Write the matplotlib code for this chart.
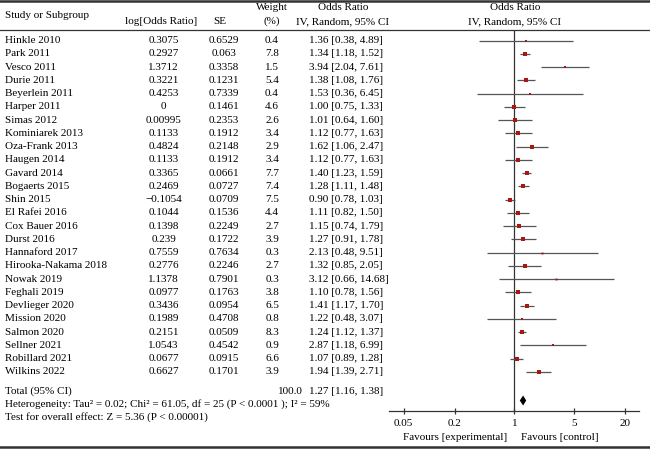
import numpy as np
import matplotlib
matplotlib.use("Agg")
import matplotlib.pyplot as plt

plt.rcParams['font.family'] = ['Liberation Serif', 'DejaVu Serif']

# study data
studies = ["Hinkle 2010", "Park 2011", "Vesco 2011", "Durie 2011", "Beyerlein 2011",
           "Harper 2011", "Simas 2012", "Kominiarek 2013", "Oza-Frank 2013", "Haugen 2014",
           "Gavard 2014", "Bogaerts 2015", "Shin 2015", "El Rafei 2016", "Cox Bauer 2016",
           "Durst 2016", "Hannaford 2017", "Hirooka-Nakama 2018", "Nowak 2019", "Feghali 2019",
           "Devlieger 2020", "Mission 2020", "Salmon 2020", "Sellner 2021", "Robillard 2021",
           "Wilkins 2022"]
log_or = [0.3075, 0.2927, 1.3712, 0.3221, 0.4253, 0, 0.00995, 0.1133, 0.4824, 0.1133,
          0.3365, 0.2469, -0.1054, 0.1044, 0.1398, 0.239, 0.7559, 0.2776, 1.1378, 0.0977,
          0.3436, 0.1989, 0.2151, 1.0543, 0.0677, 0.6627]
se = [0.6529, 0.063, 0.3358, 0.1231, 0.7339, 0.1461, 0.2353, 0.1912, 0.2148, 0.1912,
      0.0661, 0.0727, 0.0709, 0.1536, 0.2249, 0.1722, 0.7634, 0.2246, 0.7901, 0.1763,
      0.0954, 0.4708, 0.0509, 0.4542, 0.0915, 0.1701]
weight = [0.4, 7.8, 1.5, 5.4, 0.4, 4.6, 2.6, 3.4, 2.9, 3.4, 7.7, 7.4, 7.5, 4.4, 2.7,
          3.9, 0.3, 2.7, 0.3, 3.8, 6.5, 0.8, 8.3, 0.9, 6.6, 3.9]
odds = [1.36, 1.34, 3.94, 1.38, 1.53, 1.00, 1.01, 1.12, 1.62, 1.12, 1.40, 1.28, 0.90,
        1.11, 1.15, 1.27, 2.13, 1.32, 3.12, 1.10, 1.41, 1.22, 1.24, 2.87, 1.07, 1.94]
ci_low = [0.38, 1.18, 2.04, 1.08, 0.36, 0.75, 0.64, 0.77, 1.06, 0.77, 1.23, 1.11, 0.78,
          0.82, 0.74, 0.91, 0.48, 0.85, 0.66, 0.78, 1.17, 0.48, 1.12, 1.18, 0.89, 1.39]
ci_high = [4.89, 1.52, 7.61, 1.76, 6.45, 1.33, 1.60, 1.63, 2.47, 1.63, 1.59, 1.48, 1.03,
           1.50, 1.79, 1.78, 9.51, 2.05, 14.68, 1.56, 1.70, 3.07, 1.37, 6.99, 1.28, 2.71]
total_or, total_low, total_high = 1.27, 1.16, 1.38
ticks = [0.05, 0.2, 1, 5, 20]
tick_labels = ["0.05", "0.2", "1", "5", "20"]

W, H = 650, 449
fig = plt.figure(figsize=(W / 100, H / 100), dpi=100)

# pixel-based overlay for the table text
tab = fig.add_axes([0, 0, 1, 1])
tab.set_xlim(0, W)
tab.set_ylim(H, 0)
tab.axis('off')

fs = 8
# borders
tab.plot([0, W], [0.8, 0.8], color='#333333', lw=1.8)
tab.plot([0, W], [30, 30], color='#333333', lw=0.9)
tab.plot([0, W], [446.5, 446.5], color='#333333', lw=1.8)

# header
tab.text(5, 15, "Study or Subgroup", fontsize=fs, va='center')
tab.text(161, 21.5, "log[Odds Ratio]", fontsize=fs, va='center', ha='center')
tab.text(220, 21.5, "SE", fontsize=fs, va='center', ha='center')
tab.text(272, 7, "Weight", fontsize=fs, va='center', ha='center')
tab.text(272, 21.5, "(%)", fontsize=fs, va='center', ha='center')
tab.text(343, 7, "Odds Ratio", fontsize=fs, va='center', ha='center')
tab.text(343, 21.5, "IV, Random, 95% CI", fontsize=fs, va='center', ha='center')
tab.text(515, 7, "Odds Ratio", fontsize=fs, va='center', ha='center')
tab.text(515, 21.5, "IV, Random, 95% CI", fontsize=fs, va='center', ha='center')

row_y = 40.7 + 13.25 * np.arange(len(studies))
for i, name in enumerate(studies):
    y = row_y[i]
    tab.text(5, y, name, fontsize=fs, va='center')
    tab.text(163.5, y, f"{log_or[i]:g}".replace('-', '\u2212'), fontsize=fs, va='center', ha='center')
    tab.text(224, y, f"{se[i]:g}", fontsize=fs, va='center', ha='center')
    tab.text(272, y, f"{weight[i]:.1f}", fontsize=fs, va='center', ha='center')
    tab.text(309, y, f"{odds[i]:.2f} [{ci_low[i]:.2f}, {ci_high[i]:.2f}]", fontsize=fs, va='center')

tot_y = 391
tab.text(5, tot_y, "Total (95% CI)", fontsize=fs, va='center')
tab.text(290, tot_y, "100.0", fontsize=fs, va='center', ha='center')
tab.text(309, tot_y, f"{total_or:.2f} [{total_low:.2f}, {total_high:.2f}]", fontsize=fs, va='center')
tab.text(5, 404.5, "Heterogeneity: Tau\u00b2 = 0.02; Chi\u00b2 = 61.05, df = 25 (P < 0.0001 ); I\u00b2 = 59%",
         fontsize=fs, va='center')
tab.text(5, 417.5, "Test for overall effect: Z = 5.36 (P < 0.00001)", fontsize=fs, va='center')

# forest plot axes, y in the same pixel units
x0, x1, ytop, ybot = 389, 639, 30, 411
ax = fig.add_axes([x0 / W, 1 - ybot / H, (x1 - x0) / W, (ybot - ytop) / H])
ax.set_xscale('log')
ax.set_xlim(0.0337, 29.2)
ax.set_ylim(ybot, ytop)
ax.patch.set_alpha(0)
for s in ['top', 'left', 'right']:
    ax.spines[s].set_visible(False)
ax.spines['bottom'].set_color('#333333')
ax.spines['bottom'].set_linewidth(0.9)
ax.set_yticks([])
ax.set_xticks(ticks)
ax.set_xticklabels(tick_labels)
ax.minorticks_off()
ax.tick_params(axis='x', direction='inout', length=5, width=0.9, color='#333333',
               labelsize=fs, pad=3)
ax.axvline(1, color='#333333', lw=0.9)

for i in range(len(studies)):
    y = row_y[i]
    ax.plot([ci_low[i], ci_high[i]], [y, y], color='#555555', lw=0.9, solid_capstyle='butt')
    side = 1.3 + 1.15 * np.sqrt(weight[i])
    ax.plot(odds[i], y, 's', color='#a81616', markersize=side * 0.72, markeredgewidth=0)

dy = 400.5
ax.fill([total_low, total_or, total_high, total_or], [dy, dy - 5, dy, dy + 5],
        color='black', lw=0)

tab.text(455, 437, "Favours [experimental]", fontsize=fs, va='center', ha='center')
tab.text(560, 437, "Favours [control]", fontsize=fs, va='center', ha='center')

fig.savefig("out.png", dpi=100)
